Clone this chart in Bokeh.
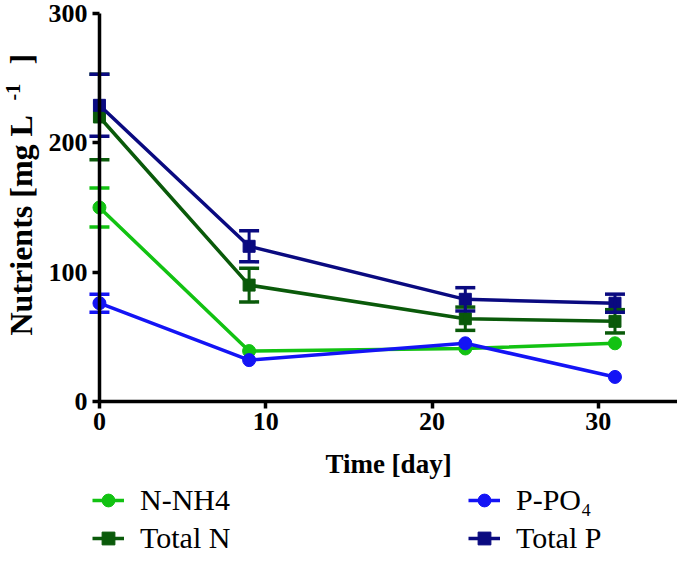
import math
from bokeh.plotting import figure
from bokeh.models import Range1d, ColumnDataSource, Whisker, TeeHead, Legend, LegendItem, FixedTicker, Label
from bokeh.embed import file_html
from bokeh.resources import INLINE

# ---- data ----
days = [0, 9, 22, 31]
nh4 = [150, 39, 41, 45]
nh4_err = [15, 2, 2, 2]
po4 = [76, 32, 45, 19]
po4_err = [7, 2, 2, 2]
total_n = [220, 90, 64, 62]
total_n_err = [33, 13, 9, 9]
total_p = [229, 120, 79, 76]
total_p_err = [24, 12, 9, 7]
x_ticks = [0, 10, 20, 30]
y_ticks = [0, 100, 200, 300]

series_names = ["N-NH4", "Total N", "P-PO\u2084", "Total P"]
x_title = "Time [day]"
y_title_parts = ["Nutrients [mg L", "-1", "]"]

FONT = "Liberation Serif"
W, H = 677, 555

p = figure(width=W, height=H, output_backend="svg", toolbar_location=None,
           x_range=Range1d(-5.95, 34.76), y_range=Range1d(-119.07, 310.05),
           min_border_left=0, min_border_right=0, min_border_top=0, min_border_bottom=0)
p.title.visible = False
p.outline_line_color = None
p.xgrid.visible = False
p.ygrid.visible = False
p.background_fill_color = "white"
p.border_fill_color = "white"

for ax in (p.xaxis[0], p.yaxis[0]):
    ax.fixed_location = 0
    ax.axis_line_width = 3.5
    ax.axis_line_color = "black"
    ax.major_tick_line_width = 3.5
    ax.major_tick_line_color = "black"
    ax.major_tick_out = 7
    ax.major_tick_in = 0
    ax.minor_tick_line_color = None
    ax.major_label_text_font = FONT
    ax.major_label_text_font_style = "bold"
    ax.major_label_text_font_size = "26px"
    ax.major_label_text_color = "black"
    ax.axis_label_text_font = FONT
    ax.axis_label_text_font_style = "bold"
    ax.axis_label_text_color = "black"

p.xaxis[0].ticker = FixedTicker(ticks=x_ticks)
p.yaxis[0].ticker = FixedTicker(ticks=y_ticks)
p.xaxis[0].bounds = (0, 35)
p.yaxis[0].bounds = (0, 300)
p.xaxis[0].axis_label = x_title
p.xaxis[0].axis_label_text_font_size = "27px"
p.xaxis[0].axis_label_standoff = 16
p.xaxis[0].major_label_standoff = 4
p.yaxis[0].major_label_standoff = 5

# y-axis title, with a raised "-1"
lab_kw = dict(x_units="screen", y_units="screen", angle=math.pi / 2, text_font=FONT,
              text_font_style="bold", text_align="left", text_baseline="middle",
              text_color="black")
p.add_layout(Label(x=20, y=H - 335, text=y_title_parts[0], text_font_size="32px", **lab_kw))
p.add_layout(Label(x=12, y=H - 100, text=y_title_parts[1], text_font_size="20px", **lab_kw))
p.add_layout(Label(x=20, y=H - 64, text=y_title_parts[2], text_font_size="32px", **lab_kw))

specs = [
    (series_names[0], nh4, nh4_err, "#12C212", "circle", 13),
    (series_names[1], total_n, total_n_err, "#0A5A0A", "square", 12),
    (series_names[2], po4, po4_err, "#1414F5", "circle", 13),
    (series_names[3], total_p, total_p_err, "#0A0A80", "square", 12),
]

items = {}
for name, vals, errs, color, marker, size in specs:
    # error bars only where they reach beyond the symbol
    wx = [d for d, e in zip(days, errs) if e >= 4]
    wu = [v + e for v, e in zip(vals, errs) if e >= 4]
    wl = [v - e for v, e in zip(vals, errs) if e >= 4]
    src = ColumnDataSource(dict(x=wx, upper=wu, lower=wl))
    w = Whisker(source=src, base="x", upper="upper", lower="lower",
                line_color=color, line_width=3,
                upper_head=TeeHead(size=20, line_color=color, line_width=3.5),
                lower_head=TeeHead(size=20, line_color=color, line_width=3.5))
    w.level = "glyph"
    p.add_layout(w)
    lr = p.line(days, vals, line_color=color, line_width=3.5)
    mr = p.scatter(days, vals, marker=marker, size=size, fill_color=color, line_color=color)
    items[name] = LegendItem(label=name, renderers=[lr, mr])

def make_legend(its, loc):
    return Legend(items=its, location=loc, orientation="vertical",
                  label_text_font=FONT, label_text_font_size="30px", label_text_color="black",
                  glyph_width=32, glyph_height=32, label_standoff=16, spacing=4,
                  padding=0, margin=0, border_line_color=None, background_fill_alpha=0)

p.add_layout(make_legend([items[series_names[0]], items[series_names[1]]], (92, 0)))
p.add_layout(make_legend([items[series_names[2]], items[series_names[3]]], (468, 0)))

open("out.html", "w").write(file_html(p, INLINE))
